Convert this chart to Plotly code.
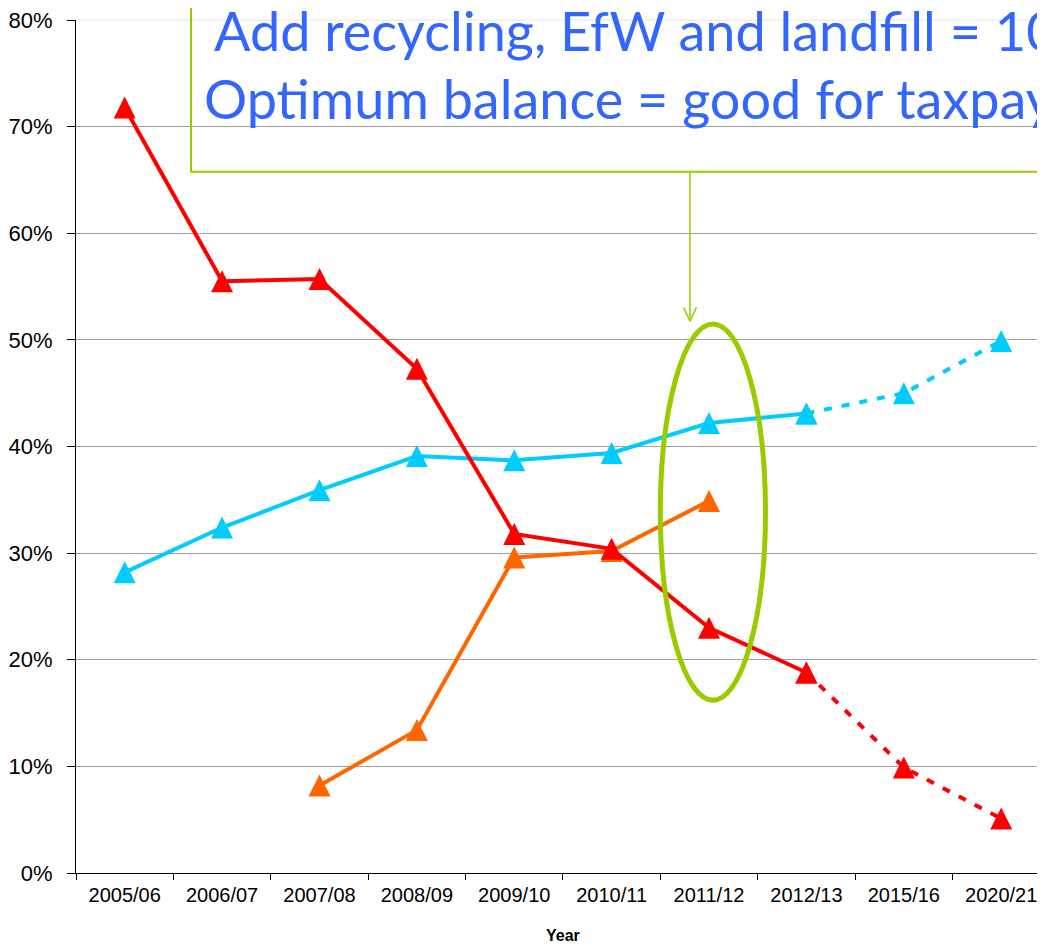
import plotly.graph_objects as go

years = ["2005/06", "2006/07", "2007/08", "2008/09", "2009/10",
         "2010/11", "2011/12", "2012/13", "2015/16", "2020/21"]
landfill = [71.8, 55.5, 55.7, 47.3, 31.8, 30.4, 23.0, 18.8, 9.9, 5.1]
recycling = [28.2, 32.4, 35.9, 39.1, 38.7, 39.4, 42.2, 43.1, 45.0, 49.9]
efw = [None, None, 8.2, 13.4, 29.6, 30.2, 34.9, None, None, None]
n_actual = 8  # first 8 years are actual; last ones are projections (dashed)

y_ticks = [0, 10, 20, 30, 40, 50, 60, 70, 80]
y_tick_text = [f"{v}%" for v in y_ticks]

note_line1 = "Add recycling, EfW and landfill = 100%"
note_line2 = "Optimum balance = good for taxpayers"

RED = "#FF0000"
CYAN = "#00CCFF"
ORANGE = "#FF6600"
GREEN = "#99CC00"
BLUE = "#3366FF"

# page has an 8px body margin; the figure is sized to fill the rest of the window
OFF = 8
W, H = 1045 - OFF, 945 - OFF
# plot-area edges in page pixels
L, R, T, B = 76, 1045, 18, 873

MSIZE = 22


def px(x):
    return (x - L) / (R - L)


def py(y):
    return (B - y) / (B - T)


# upward triangle as tall as it is wide, centred on the point
tri_marker = dict(symbol="arrow-down", angle=180, standoff=MSIZE / 2, size=MSIZE)

fig = go.Figure()


def add_series(values, color):
    fig.add_trace(go.Scatter(
        x=years[:n_actual], y=values[:n_actual], mode="lines+markers",
        line=dict(color=color, width=4),
        marker=dict(color=color, **tri_marker),
        connectgaps=False, hoverinfo="skip"))
    proj = values[n_actual - 1:]
    if any(v is not None for v in proj[1:]):
        fig.add_trace(go.Scatter(
            x=years[n_actual - 1:], y=proj, mode="lines+markers",
            line=dict(color=color, width=4, dash="8px,10px"),
            marker=dict(color=color, **tri_marker),
            hoverinfo="skip"))


add_series(recycling, CYAN)
add_series(efw, ORANGE)
add_series(landfill, RED)

shapes = [
    # annotation box (extends past the right edge / top)
    dict(type="rect", xref="paper", yref="paper",
         x0=px(191), x1=px(1200), y0=py(170), y1=py(-40),
         line=dict(color=GREEN, width=2), fillcolor="rgba(0,0,0,0)", layer="above"),
    # ellipse around 2011/12
    dict(type="circle", xref="x", yref="y",
         x0=5.50, x1=6.58, y0=16.2, y1=51.5,
         line=dict(color=GREEN, width=5), layer="above"),
    # arrow shaft and head
    dict(type="line", xref="paper", yref="paper",
         x0=px(690), x1=px(690), y0=py(170), y1=py(319),
         line=dict(color=GREEN, width=1.5)),
    dict(type="line", xref="paper", yref="paper",
         x0=px(683.5), x1=px(690), y0=py(306), y1=py(320),
         line=dict(color=GREEN, width=1.5)),
    dict(type="line", xref="paper", yref="paper",
         x0=px(696.5), x1=px(690), y0=py(306), y1=py(320),
         line=dict(color=GREEN, width=1.5)),
    # faint top gridline (80%)
    dict(type="line", xref="paper", yref="paper",
         x0=0, x1=1, y0=1, y1=1, line=dict(color="#E6E6E6", width=1), layer="below"),
]

annotations = [
    dict(text=note_line1, xref="paper", yref="paper", x=px(212), y=py(28.5),
         xanchor="left", yanchor="middle", showarrow=False,
         font=dict(family="Lato", size=54, color=BLUE)),
    dict(text=note_line2, xref="paper", yref="paper", x=px(202), y=py(96.5),
         xanchor="left", yanchor="middle", showarrow=False,
         font=dict(family="Lato", size=54, color=BLUE)),
    dict(text="<b>Year</b>", xref="paper", yref="paper", x=px(563), y=py(936),
         xanchor="center", yanchor="middle", showarrow=False,
         font=dict(family="Liberation Sans", size=16, color="#000000")),
]

fig.update_layout(
    width=W, height=H,
    margin=dict(l=L - OFF, r=(1045 - OFF) - (R - OFF), t=T - OFF, b=H - (B - OFF), pad=0),
    paper_bgcolor="white", plot_bgcolor="white",
    showlegend=False,
    font=dict(family="Liberation Sans", color="#000000"),
    shapes=shapes, annotations=annotations,
    xaxis=dict(type="category", categoryorder="array", categoryarray=years,
               range=[-0.5, 9.45], showgrid=False, zeroline=False,
               showline=True, linecolor="#000000", linewidth=1,
               ticks="outside", ticklen=6, tickcolor="#000000", tickson="boundaries",
               tickfont=dict(size=20, color="#000000"), ticklabelstandoff=4,
               ticklabeloverflow="allow"),
    yaxis=dict(range=[0, 80], tickvals=y_ticks, ticktext=y_tick_text,
               showgrid=True, gridcolor="#A0A0A0", gridwidth=1, zeroline=False,
               showline=True, linecolor="#000000", linewidth=1,
               ticks="outside", ticklen=8, tickcolor="#000000",
               tickfont=dict(size=22, color="#000000"), ticklabelstandoff=10,
               ticklabeloverflow="allow"),
)

fig.write_html("out.html")
